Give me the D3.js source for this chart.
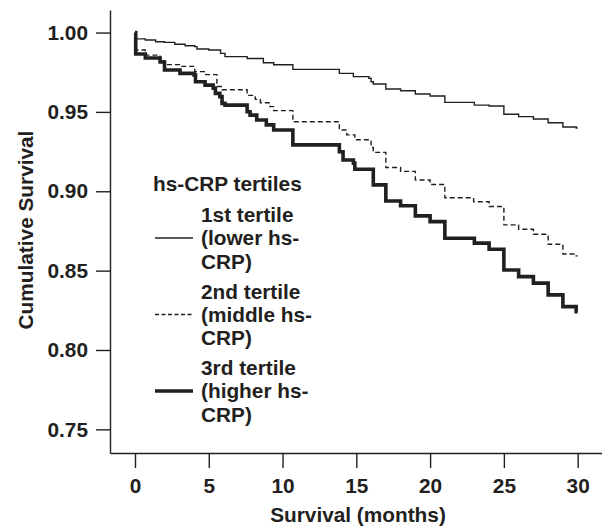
<!DOCTYPE html>
<html>
<head>
<meta charset="utf-8">
<script src="https://cdn.jsdelivr.net/npm/d3@7"></script>
<style>
  body { margin: 0; background: #fff; }
  svg text { font-family: "Liberation Sans", Arial, Helvetica, sans-serif; font-weight: bold; fill: #231f20; }
</style>
</head>
<body>
<div id="km"></div>
<script>
// survival steps: [month, cumulative survival]
var lowerCRP = [
  [0, 1.000], [0.05, 0.9960], [0.7, 0.9953], [1.4, 0.9942], [2.0, 0.9938], [2.7, 0.9926],
  [3.4, 0.9917], [4.05, 0.9911], [4.2, 0.9896], [5.0, 0.9890], [5.8, 0.9869], [6.1, 0.9848],
  [7.6, 0.9836], [8.7, 0.9810], [9.4, 0.9797], [10.7, 0.9768], [13.85, 0.9743], [14.8, 0.9722],
  [15.85, 0.9712], [16.0, 0.9690], [16.15, 0.9676], [17.0, 0.9644], [18.0, 0.9633],
  [19.0, 0.9613], [20.0, 0.9600], [21.0, 0.9560], [23.0, 0.9543], [24.0, 0.9537],
  [25.0, 0.9485], [26.0, 0.9470], [27.0, 0.9455], [28.0, 0.9432], [29.0, 0.9405], [29.9, 0.9399]
];
var middleCRP = [
  [0, 1.000], [0.05, 0.9890], [0.7, 0.9858], [1.7, 0.9822], [2.0, 0.9798], [3.0, 0.9787],
  [4.05, 0.9754], [4.8, 0.9735], [5.55, 0.9660], [5.9, 0.9640], [7.6, 0.9604], [8.15, 0.9579],
  [8.5, 0.9558], [9.15, 0.9533], [9.4, 0.9508], [10.7, 0.9438], [13.85, 0.9386], [14.35, 0.9355],
  [14.9, 0.9325], [16.0, 0.9276], [16.15, 0.9245], [17.0, 0.9150], [18.0, 0.9125],
  [19.0, 0.9071], [20.0, 0.9043], [21.0, 0.8959], [22.95, 0.8934], [24.0, 0.8904],
  [25.0, 0.8788], [26.0, 0.8761], [27.0, 0.8729], [28.0, 0.8666], [29.0, 0.8605], [29.9, 0.8593]
];
var higherCRP = [
  [0, 1.000], [0.05, 0.9865], [0.7, 0.9840], [1.7, 0.9814], [2.0, 0.9764], [3.05, 0.9743],
  [4.0, 0.9733], [4.1, 0.9690], [4.75, 0.9669], [5.3, 0.9650], [5.45, 0.9617], [5.75, 0.9596],
  [5.9, 0.9554], [6.1, 0.9543], [7.6, 0.9501], [7.8, 0.9480], [8.25, 0.9449], [8.9, 0.9418],
  [9.4, 0.9386], [10.7, 0.9292], [13.85, 0.9249], [14.1, 0.9197], [14.8, 0.9177], [14.9, 0.9139],
  [16.15, 0.9040], [17.0, 0.8939], [18.0, 0.8909], [19.0, 0.8845], [20.0, 0.8809],
  [21.0, 0.8704], [23.0, 0.8673], [24.0, 0.8635], [25.0, 0.8504], [26.0, 0.8462],
  [27.0, 0.8421], [28.0, 0.8347], [29.0, 0.8273], [29.9, 0.8242]
];

var xTicks = [0, 5, 10, 15, 20, 25, 30];
var yTicks = [0.75, 0.80, 0.85, 0.90, 0.95, 1.00];
var legendTitle = "hs-CRP tertiles";
var legendLabels = [
  ["1st tertile", "(lower hs-", "CRP)"],
  ["2nd tertile", "(middle hs-", "CRP)"],
  ["3rd tertile", "(higher hs-", "CRP)"]
];
var lineWidths = [1.4, 1.4, 3.6];
var lineDashes = [null, "5,3", null];

var width = 602, height = 526;
var ink = "#231f20";
var fontSize = 20.8;

var svg = d3.select("#km").append("svg")
    .attr("width", width)
    .attr("height", height);

// scales, the axes run a bit past the data on both ends
var x = d3.scaleLinear().domain([-1.694, 31.65]).range([110, 602]);
var y = d3.scaleLinear().domain([0.7351, 1.0142]).range([453, 10]);

// x axis
var gx = svg.append("g")
    .attr("transform", "translate(0," + y.range()[0] + ")")
    .call(d3.axisBottom(x).tickValues(xTicks).tickFormat(d3.format("d"))
      .tickSize(15).tickSizeOuter(0).tickPadding(10));

// y axis
var gy = svg.append("g")
    .attr("transform", "translate(" + x.range()[0] + ",0)")
    .call(d3.axisLeft(y).tickValues(yTicks).tickFormat(d3.format(".2f"))
      .tickSize(14).tickSizeOuter(0).tickPadding(8));

[gx, gy].forEach(function(g) {
  g.selectAll("path, line").attr("stroke", ink).attr("stroke-width", 1.4);
  g.selectAll("text").attr("font-size", fontSize).attr("fill", ink);
  g.attr("font-family", null).attr("font-size", null);
});

// axis titles
svg.append("text")
    .attr("x", 358)
    .attr("y", 522)
    .attr("text-anchor", "middle")
    .attr("font-size", fontSize)
    .text("Survival (months)");

svg.append("text")
    .attr("transform", "translate(33,230) rotate(-90)")
    .attr("text-anchor", "middle")
    .attr("font-size", fontSize)
    .text("Cumulative Survival");

// the three step curves
var line = d3.line()
    .curve(d3.curveStepAfter)
    .x(function(d) { return x(d[0]); })
    .y(function(d) { return y(d[1]); });

[lowerCRP, middleCRP, higherCRP].forEach(function(series, i) {
  var pts = series.concat([[30, series[series.length - 1][1]]]);
  svg.append("path")
      .datum(pts)
      .attr("fill", "none")
      .attr("stroke", ink)
      .attr("stroke-width", lineWidths[i])
      .attr("stroke-dasharray", lineDashes[i])
      .attr("d", line);
});

// legend
var legend = svg.append("g");
legend.append("text")
    .attr("x", 153)
    .attr("y", 191)
    .attr("font-size", fontSize)
    .text(legendTitle);

legendLabels.forEach(function(lines, i) {
  var base = 222 + i * 76.5;
  legend.append("line")
      .attr("x1", 155).attr("x2", 193)
      .attr("y1", base + 16).attr("y2", base + 16)
      .attr("stroke", ink)
      .attr("stroke-width", lineWidths[i])
      .attr("stroke-dasharray", lineDashes[i] ? "4,2.5" : null);
  lines.forEach(function(t, j) {
    legend.append("text")
        .attr("x", 201)
        .attr("y", base + j * 23.3)
        .attr("font-size", fontSize)
        .text(t);
  });
});
</script>
</body>
</html>
